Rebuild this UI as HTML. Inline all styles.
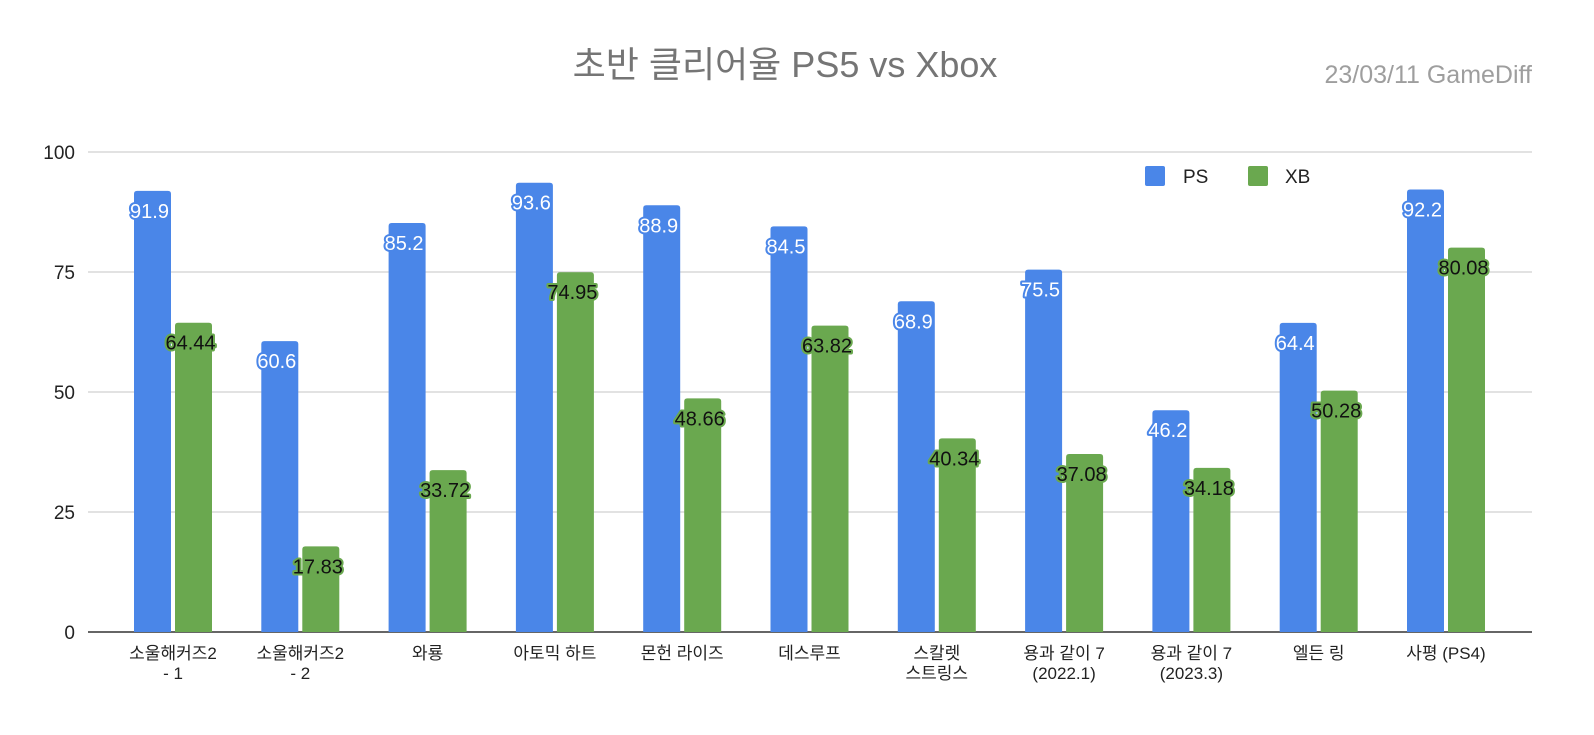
<!DOCTYPE html>
<html><head><meta charset="utf-8">
<style>
body{margin:0;background:#fff;}
svg text{font-family:"Liberation Sans","Noto Sans CJK KR",sans-serif;}
</style></head>
<body>
<svg id="chart" width="1594" height="730" xmlns="http://www.w3.org/2000/svg">
<rect width="1594" height="730" fill="#fff"/>
<text x="785" y="77" text-anchor="middle" font-size="36" fill="#757575">초반 클리어율 PS5 vs Xbox</text>
<text x="1532" y="83" text-anchor="end" font-size="25" fill="#9e9e9e">23/03/11  GameDiff</text>
<g id="grid"></g>
<g id="bars"></g>
<g id="labels"></g>
<g>
<rect x="1145" y="166" width="20" height="20" rx="2" fill="#4a86e8"/>
<text x="1183" y="183" font-size="19" fill="#222">PS</text>
<rect x="1248" y="166" width="20" height="20" rx="2" fill="#6aa84f"/>
<text x="1285" y="183" font-size="19" fill="#222">XB</text>
</g>
</svg>
<script>
const categories=[["소울해커즈2","- 1"],["소울해커즈2","- 2"],["와룡"],["아토믹 하트"],["몬헌 라이즈"],["데스루프"],["스칼렛","스트링스"],["용과 같이 7","(2022.1)"],["용과 같이 7","(2023.3)"],["엘든 링"],["사평 (PS4)"]];
const psValues=[91.9,60.6,85.2,93.6,88.9,84.5,68.9,75.5,46.2,64.4,92.2];
const xbValues=[64.44,17.83,33.72,74.95,48.66,63.82,40.34,37.08,34.18,50.28,80.08];
const yTicks=[0,25,50,75,100];

const NS="http://www.w3.org/2000/svg";
const x0=88,x1=1532,yTop=152,yBot=632,yMax=100;
const y=v=>yBot-(v/yMax)*(yBot-yTop);
const step=127.3,first=173;
const xc=i=>first+i*step;
const bw=37,gap=2;
function mk(tag,attrs,parent,txt){const e=document.createElementNS(NS,tag);for(const k in attrs)e.setAttribute(k,attrs[k]);if(txt!==undefined)e.textContent=txt;parent.appendChild(e);return e;}
const grid=document.getElementById('grid'),bars=document.getElementById('bars'),labels=document.getElementById('labels');
yTicks.forEach(t=>{
  const l=mk('line',{x1:x0,x2:x1,y1:y(t),y2:y(t),stroke:t===0?'#333':'#c6c6c6','stroke-width':t===0?1.5:1},grid);
  
  
  const tx=mk('text',{x:75,y:y(t)+7,'text-anchor':'end','font-size':19,fill:'#222'},grid,String(t));
  
  
});
function bar(x,v,color,name){
  const top=y(v),h=yBot-top;
  const p=mk('path',{d:`M${x},${yBot}V${top+3}Q${x},${top} ${x+3},${top}H${x+bw-3}Q${x+bw},${top} ${x+bw},${top+3}V${yBot}Z`,fill:color},bars);
  
  
}
function lab(x,v,fill,stroke,name){
  const t=mk('text',{x:x,y:y(v)+27,'text-anchor':'middle','font-size':20,fill:fill,stroke:stroke,'stroke-width':4,'paint-order':'stroke','stroke-linejoin':'round'},labels,String(v));
  
  
}
categories.forEach((c,i)=>{
  const cx=xc(i);
  bar(cx-gap-bw,psValues[i],'#4a86e8','bar-ps-'+i);
  bar(cx+gap,xbValues[i],'#6aa84f','bar-xb-'+i);
  lab(cx-gap-bw/2-3,psValues[i],'#fff','#4a86e8','value-ps-'+i);
  lab(cx+gap+bw/2-3,xbValues[i],'#111','#6aa84f','value-xb-'+i);
  c.forEach((line,j)=>{
    const t=mk('text',{x:cx,y:659+j*20,'text-anchor':'middle','font-size':17,fill:'#222'},labels,line);
    
    
  });
});
</script>
</body></html>
